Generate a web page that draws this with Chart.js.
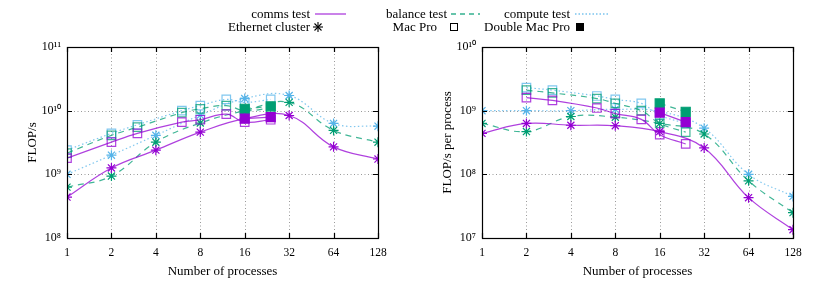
<!DOCTYPE html>
<html><head><meta charset="utf-8">
<script src="https://cdn.jsdelivr.net/npm/chart.js@4"></script>
<style>
html,body{margin:0;padding:0;background:#fff;}
#wrap{position:relative;width:830px;height:290px;overflow:hidden;font-family:"Liberation Serif",serif;}
.cv{position:absolute;top:0;}
.lg{position:absolute;font-size:13px;color:#000;white-space:nowrap;line-height:14px;}
svg.smp{position:absolute;overflow:visible;}
</style></head><body>
<div id="wrap">
 <canvas id="c1" class="cv" width="415" height="290" style="left:0"></canvas>
 <canvas id="c2" class="cv" width="415" height="290" style="left:415px"></canvas>
</div>
<script>
// ---------- data ----------
const xTicks = [1, 2, 4, 8, 16, 32, 64, 128];
const yExpTotal = [8, 9, 10, 11];
const yExpPerProc = [7, 8, 9, 10];

const xEth = [1, 2, 4, 8, 16, 32, 64, 128];
const xMac = [1, 2, 3, 6, 8, 12, 16, 24];
const xMacPP = [2, 3, 6, 8, 12, 16, 24];
const xDouble = [16, 24];

// FLOP/s (left panel)
const ethComms   = [4.4e8, 1.26e9, 2.4e9, 4.6e9, 7.5e9, 8.4e9, 2.7e9, 1.74e9];
const ethBalance = [6.3e8, 9.4e8, 3.2e9, 6.4e9, 1.0e10, 1.35e10, 4.9e9, 3.2e9];
const ethCompute = [1.0e9, 2.0e9, 4.1e9, 8.5e9, 1.55e10, 1.73e10, 6.3e9, 5.7e9];
const macComms   = [1.8e9, 3.2e9, 4.4e9, 6.6e9, 7.2e9, 8.8e9, 6.6e9, 7.2e9];
const macBalance = [2.15e9, 4.1e9, 5.5e9, 9.3e9, 1.07e10, 1.2e10, 1.0e10, 1.1e10];
const macCompute = [2.4e9, 4.4e9, 6.0e9, 1.0e10, 1.2e10, 1.5e10, 1.35e10, 1.5e10];
const dblComms   = [7.5e9, 7.9e9];
const dblBalance = [1.07e10, 1.17e10];

// FLOP/s per process (right panel)
const ethCommsPP   = [4.4e8, 6.3e8, 5.9e8, 5.8e8, 4.7e8, 2.6e8, 4.3e7, 1.35e7];
const ethBalancePP = [6.3e8, 4.7e8, 8.1e8, 7.9e8, 6.3e8, 4.3e8, 7.9e7, 2.5e7];
const ethComputePP = [1.0e9, 1.0e9, 1.0e9, 1.05e9, 9.7e8, 5.3e8, 1.0e8, 4.5e7];
const macCommsPP   = [1.6e9, 1.45e9, 1.1e9, 9.0e8, 7.3e8, 4.2e8, 3.0e8];
const macBalancePP = [2.1e9, 1.9e9, 1.55e9, 1.3e9, 1.0e9, 6.3e8, 4.6e8];
const macComputePP = [2.3e9, 2.1e9, 1.7e9, 1.5e9, 1.3e9, 8.5e8, 6.3e8];
const dblCommsPP   = [9.3e8, 6.6e8];
const dblBalancePP = [1.3e9, 9.6e8];

const testNames = ['comms test', 'balance test', 'compute test'];
const machineNames = ['Ethernet cluster', 'Mac Pro', 'Double Mac Pro'];
const xTitle = 'Number of processes';
const yTitles = ['FLOP/s', 'FLOP/s per process'];

// ---------- styling ----------
const COL = {comms:[148,0,211], balance:[0,158,115], compute:[86,180,233]};
const rgba = (c,a) => `rgba(${c[0]},${c[1]},${c[2]},${a})`;
const DASH = {comms:[], balance:[6,5], compute:[1.5,2.5]};
const FONT = '"Liberation Serif", serif';
const SUP = {'0':'\u2070','1':'\u00b9','2':'\u00b2','3':'\u00b3','4':'\u2074','5':'\u2075','6':'\u2076','7':'\u2077','8':'\u2078','9':'\u2079'};
const sup = n => String(n).split('').map(d => SUP[d]).join('');

function pts(xs, ys){ return xs.map((x,i)=>({x, y: ys[i]})); }

function ds(test, kind, xs, ys){
  const c = COL[test];
  const base = {
    data: pts(xs, ys), showLine: true, tension: 0.4,
    borderColor: rgba(c, 0.75), borderWidth: 1.2, borderDash: DASH[test],
    pointBorderColor: rgba(c, kind==='mac' ? 0.75 : 1), pointBorderWidth: 1.2,
    pointHoverRadius: 0
  };
  if (kind === 'eth') Object.assign(base, {pointStyle:'star', pointRadius:5, pointBackgroundColor:'transparent'});
  if (kind === 'mac') Object.assign(base, {pointStyle:'rect', pointRadius:6, pointBackgroundColor:'transparent'});
  if (kind === 'dbl') Object.assign(base, {pointStyle:'rect', pointRadius:6.4, pointBackgroundColor:rgba(c,1), pointBorderColor:rgba(c,1)});
  return base;
}

const framePlugin = {
  id: 'frame',
  beforeDatasetsDraw(chart){
    const {ctx, chartArea:a, scales:{x, y}} = chart;
    ctx.save();
    ctx.strokeStyle = '#9a9a9a'; ctx.lineWidth = 1; ctx.setLineDash([1, 2.5]);
    x.ticks.forEach(t => {
      const p = Math.round(x.getPixelForValue(t.value)) + 0.5;
      if (p > a.left + 2 && p < a.right - 2) { ctx.beginPath(); ctx.moveTo(p, a.top); ctx.lineTo(p, a.bottom); ctx.stroke(); }
    });
    y.ticks.forEach(t => {
      const p = Math.round(y.getPixelForValue(t.value)) + 0.5;
      if (p > a.top + 2 && p < a.bottom - 2) { ctx.beginPath(); ctx.moveTo(a.left, p); ctx.lineTo(a.right, p); ctx.stroke(); }
    });
    ctx.restore();
  },
  afterDatasetsDraw(chart){
    const {ctx, chartArea:a, scales:{x, y}} = chart;
    ctx.save();
    ctx.strokeStyle = '#000'; ctx.lineWidth = 1.2; ctx.setLineDash([]);
    ctx.strokeRect(Math.round(a.left)+0.5, Math.round(a.top)+0.5, Math.round(a.right-a.left), Math.round(a.bottom-a.top));
    const L = 5;
    ctx.beginPath();
    x.ticks.forEach(t => {
      const p = Math.round(x.getPixelForValue(t.value)) + 0.5;
      ctx.moveTo(p, a.bottom); ctx.lineTo(p, a.bottom - L);
      ctx.moveTo(p, a.top); ctx.lineTo(p, a.top + L);
    });
    y.ticks.forEach(t => {
      const p = Math.round(y.getPixelForValue(t.value)) + 0.5;
      ctx.moveTo(a.left, p); ctx.lineTo(a.left + L, p);
      ctx.moveTo(a.right, p); ctx.lineTo(a.right - L, p);
    });
    ctx.stroke();
    ctx.restore();
  }
};

function makeChart(id, datasets, yExp, yTitle){
  return new Chart(document.getElementById(id), {
    type: 'line',
    data: {datasets},
    plugins: [framePlugin],
    options: {
      responsive: false, animation: false, parsing: true,
      layout: {padding: {left: 0, right: 37, top: 47, bottom: 0}},
      plugins: {legend: {display: false}, tooltip: {enabled: false}},
      scales: {
        x: {
          type: 'logarithmic', min: 1, max: 128,
          afterBuildTicks: s => { s.ticks = xTicks.map(v => ({value: v})); },
          ticks: {callback: v => String(v), autoSkip: false, maxRotation: 0, padding: 8, color: '#000', font: {family: FONT, size: 11.5}},
          grid: {display: false, drawTicks: false}, border: {display: false},
          title: {display: true, text: xTitle, color: '#000', font: {family: FONT, size: 13}, padding: {top: 0, bottom: 11}},
          afterFit: s => { s.height = 52; }
        },
        y: {
          type: 'logarithmic', min: 10 ** yExp[0], max: 10 ** yExp[yExp.length-1],
          afterBuildTicks: s => { s.ticks = yExp.map(e => ({value: 10 ** e})); },
          ticks: {callback: v => '10' + sup(Math.round(Math.log10(v))), autoSkip: false, padding: 6, color: '#000', font: {family: FONT, size: 12}},
          grid: {display: false, drawTicks: false}, border: {display: false},
          title: {display: true, text: yTitle, color: '#000', font: {family: FONT, size: 13}, padding: {top: 25, bottom: 0}},
          afterFit: s => { s.width = 67; }
        }
      }
    }
  });
}

makeChart('c1', [
  ds('comms','dbl', xDouble, dblComms),
  ds('comms','eth', xEth, ethComms),
  ds('comms','mac', xMac, macComms),
  ds('balance','dbl', xDouble, dblBalance),
  ds('balance','eth', xEth, ethBalance),
  ds('balance','mac', xMac, macBalance),
  ds('compute','eth', xEth, ethCompute),
  ds('compute','mac', xMac, macCompute)
], yExpTotal, yTitles[0]);

makeChart('c2', [
  ds('comms','dbl', xDouble, dblCommsPP),
  ds('comms','eth', xEth, ethCommsPP),
  ds('comms','mac', xMacPP, macCommsPP),
  ds('balance','dbl', xDouble, dblBalancePP),
  ds('balance','eth', xEth, ethBalancePP),
  ds('balance','mac', xMacPP, macBalancePP),
  ds('compute','eth', xEth, ethComputePP),
  ds('compute','mac', xMacPP, macComputePP)
], yExpPerProc, yTitles[1]);

// ---------- legend ----------
const wrap = document.getElementById('wrap');
function text(str, rightX, cy){
  const s = document.createElement('span');
  s.className = 'lg'; s.textContent = str;
  s.style.right = (830 - rightX) + 'px'; s.style.top = (cy - 7) + 'px';
  wrap.appendChild(s);
}
function svg(html, x, y, w, h){
  const d = document.createElementNS('http://www.w3.org/2000/svg', 'svg');
  d.setAttribute('class', 'smp'); d.setAttribute('width', w); d.setAttribute('height', h);
  d.style.left = x + 'px'; d.style.top = y + 'px';
  d.innerHTML = html; wrap.appendChild(d);
}
const row1 = 14, row2 = 27;
text(testNames[0], 310, row1);
svg(`<line x1="0" y1="4" x2="31" y2="4" stroke="${rgba(COL.comms,0.7)}" stroke-width="1.4"/>`, 315, row1-4, 31, 8);
text(testNames[1], 447, row1);
svg(`<line x1="0" y1="4" x2="29" y2="4" stroke="${rgba(COL.balance,0.8)}" stroke-width="1.3" stroke-dasharray="5,4"/>`, 451, row1-4, 29, 8);
text(testNames[2], 570, row1);
svg(`<line x1="0" y1="4" x2="33" y2="4" stroke="${rgba(COL.compute,0.8)}" stroke-width="1.3" stroke-dasharray="1.5,2"/>`, 575, row1-4, 33, 8);
text(machineNames[0], 310, row2);
svg(`<g stroke="#000" stroke-width="1.1"><line x1="0" y1="5" x2="10" y2="5"/><line x1="5" y1="0" x2="5" y2="10"/><line x1="1.5" y1="1.5" x2="8.5" y2="8.5"/><line x1="8.5" y1="1.5" x2="1.5" y2="8.5"/></g>`, 313, row2-5, 10, 10);
text(machineNames[1], 437, row2);
svg(`<rect x="0.5" y="0.5" width="7" height="7" fill="none" stroke="#000" stroke-width="1"/>`, 450, row2-4, 8, 8);
text(machineNames[2], 570, row2);
svg(`<rect x="0" y="0" width="8" height="8" fill="#000"/>`, 576, row2-4, 8, 8);
</script>
</body></html>
